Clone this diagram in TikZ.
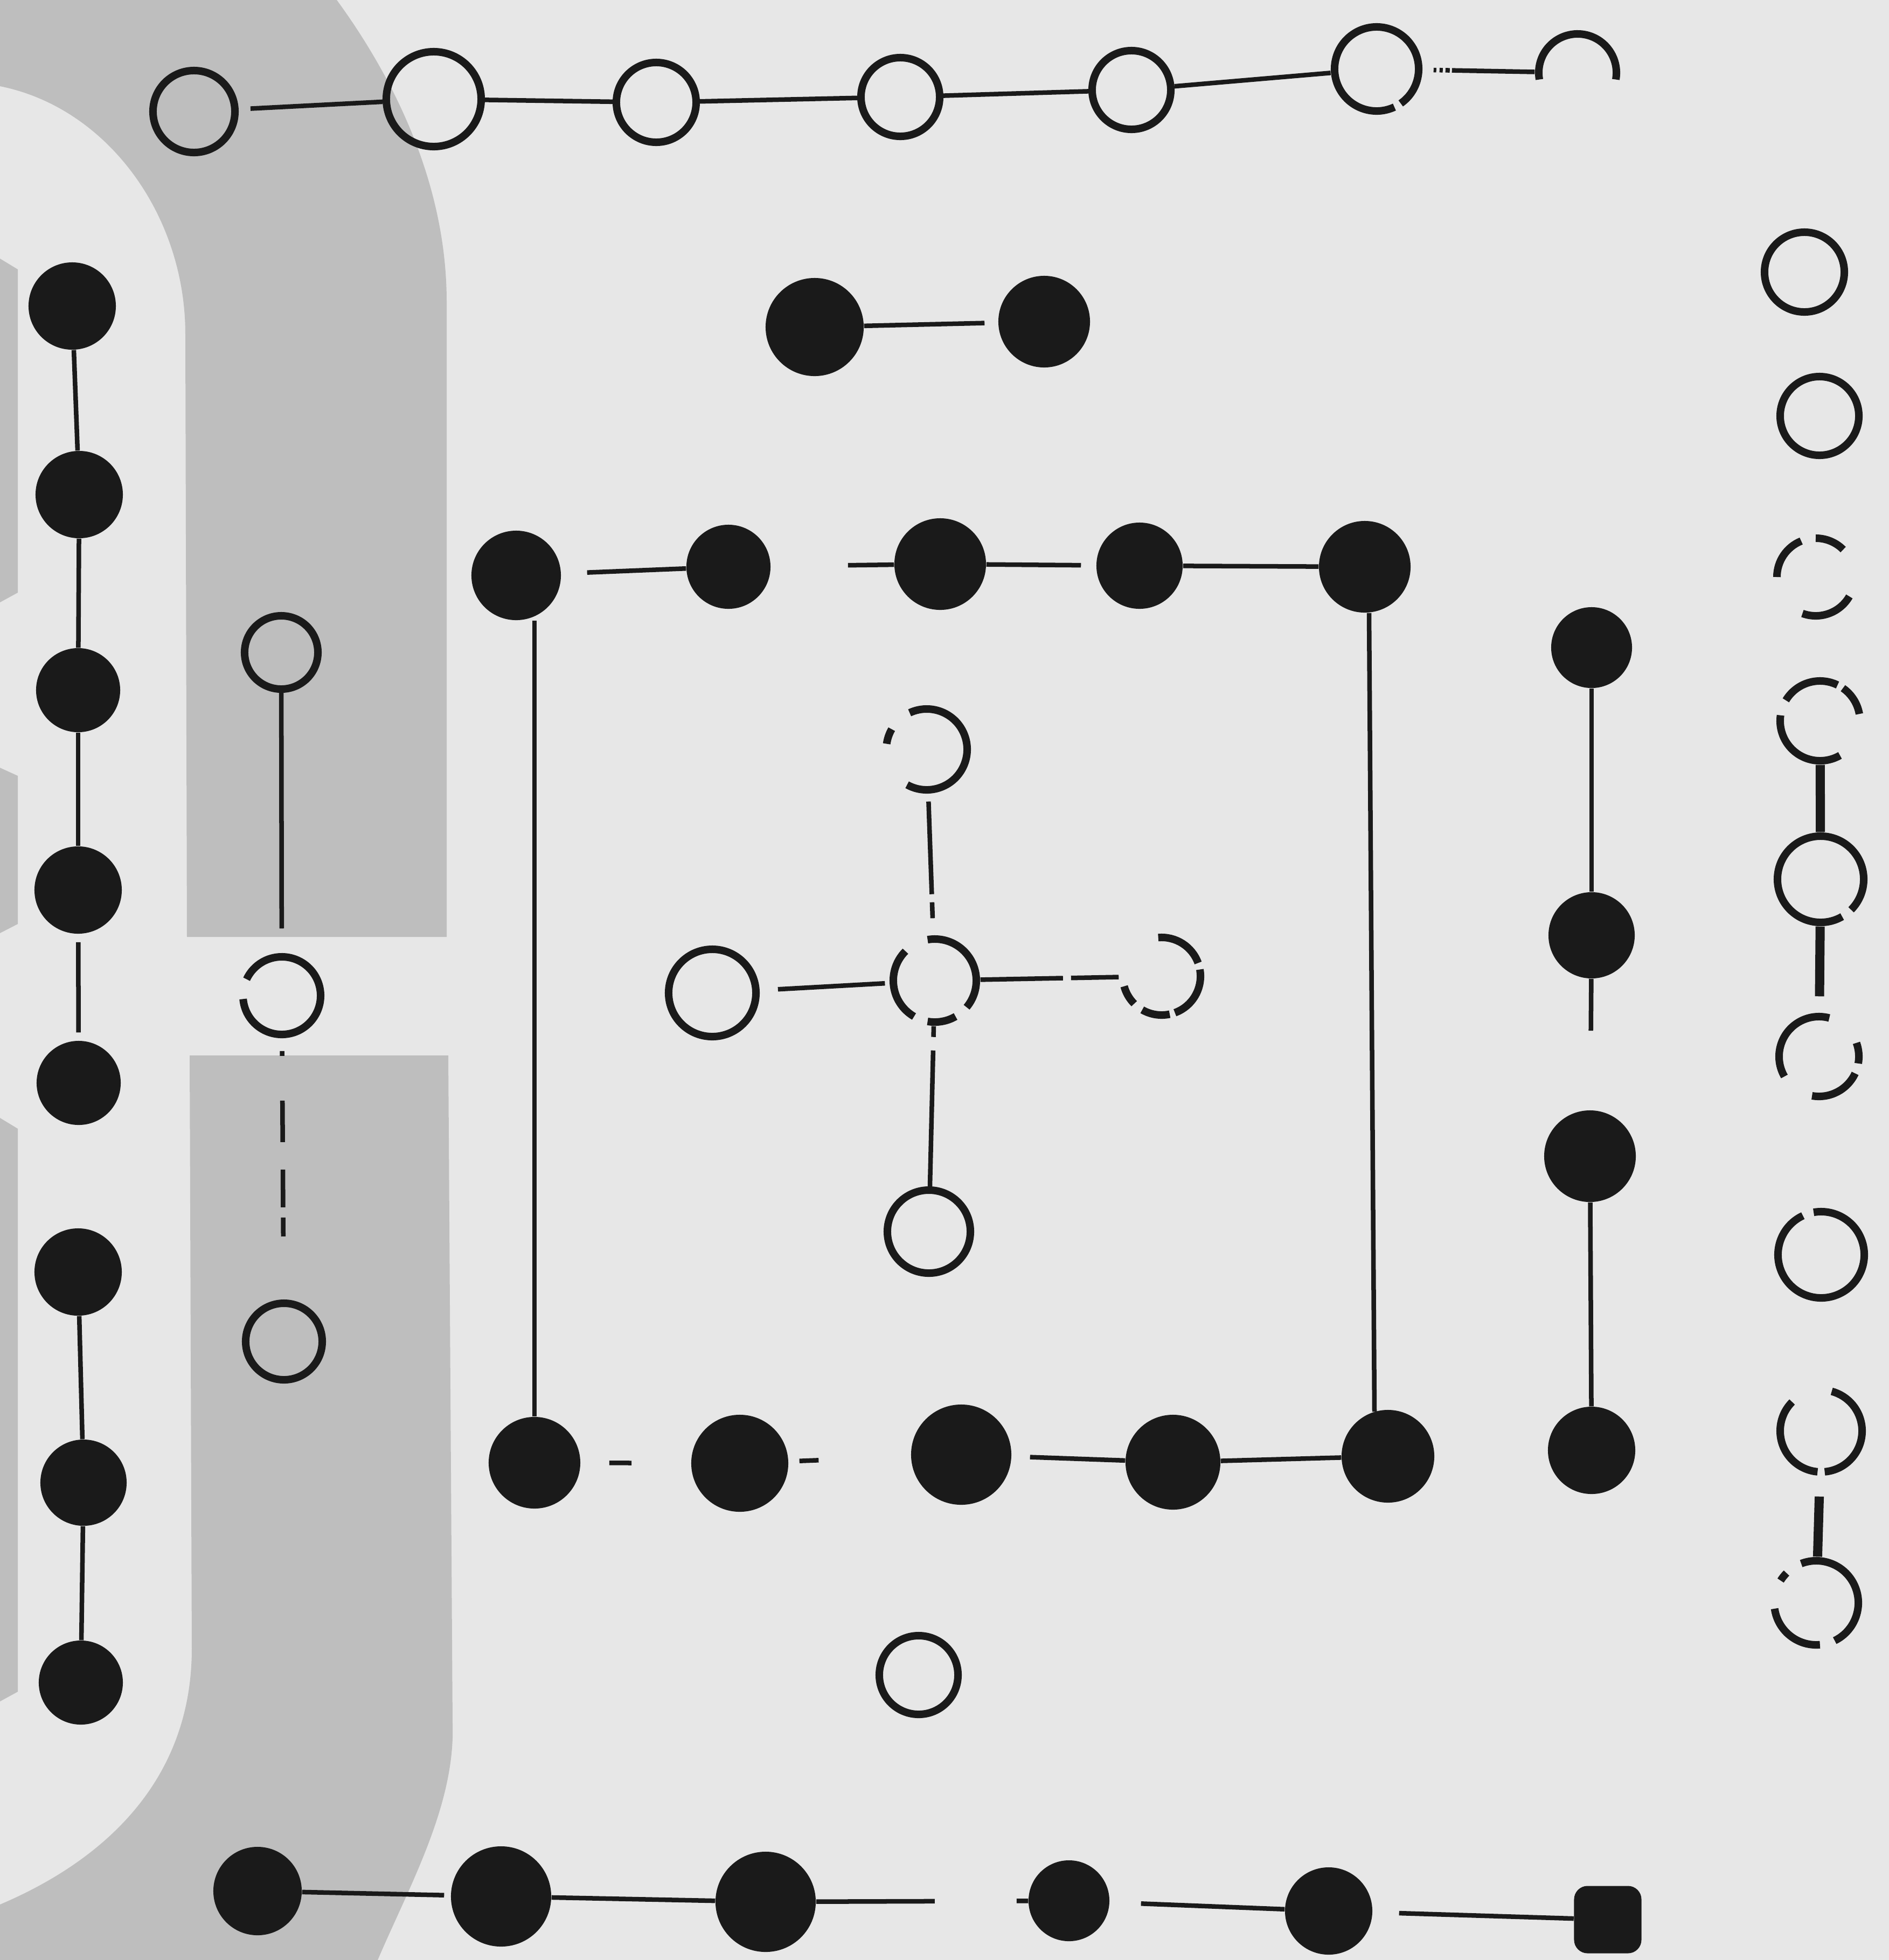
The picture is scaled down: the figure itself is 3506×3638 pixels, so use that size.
\documentclass[tikz,border=0pt]{standalone}
\usetikzlibrary{calc}
\definecolor{paper}{RGB}{231,231,231}
\definecolor{band}{RGB}{190,190,190}
\definecolor{ink}{RGB}{26,26,26}
\newcommand\brk[4]{\draw[arcline] ($(#1.center)+(#2:#4)$) arc[start angle=#2,end angle=#3,radius=#4];}
\begin{document}
\begin{tikzpicture}[x=0.01cm,y=-0.01cm,
  ring/.style={circle,draw=ink,line width=0.14cm,inner sep=0pt},
  blk/.style={circle,fill=ink,draw=none,inner sep=0pt},
  hole/.style={circle,draw=none,inner sep=0pt},
  conn/.style={draw=ink,line width=0.085cm},
  arcline/.style={draw=ink,line width=0.14cm},
  stem/.style={draw=ink,line width=0.17cm}]
\useasboundingbox (0,0) rectangle (3506,3638);
% background
\fill[paper] (0,0) rectangle (3506,3638);
\fill[band] (0,0) -- (625,0) .. controls (720,130) and (829,330) .. (829,560) -- (829,1739) -- (347,1739) -- (344,620) .. controls (344,400) and (200,200) .. (0,160) -- cycle;
\fill[band] (352,1959) -- (832,1959) -- (840,3200) .. controls (845,3350) and (760,3500) .. (701,3638) -- (0,3638) -- (0,3535) .. controls (200,3450) and (356,3300) .. (356,3060) -- cycle;
\fill[band] (0,480) -- (33,500) -- (33,1100) -- (0,1118) -- cycle;
\fill[band] (0,1425) -- (33,1440) -- (33,1715) -- (0,1732) -- cycle;
\fill[band] (0,2075) -- (33,2095) -- (33,3140) -- (0,3158) -- cycle;

% ---- top outer row (7 white)
\node[ring,minimum size=1.52cm] (T1) at (360,207) {};
\node[ring,minimum size=1.76cm] (T2) at (805,184) {};
\node[ring,minimum size=1.48cm] (T3) at (1218,190) {};
\node[ring,minimum size=1.46cm] (T4) at (1671,180) {};
\node[ring,minimum size=1.46cm] (T5) at (2100,167) {};
\node[hole,minimum size=1.70cm] (T6) at (2555,128) {};
\node[hole,minimum size=1.58cm] (T7) at (2928,135) {};
\brk{T6}{-55}{295}{0.78cm}
\brk{T7}{-10}{190}{0.72cm}

% ---- top inner pair (2 black)
\node[blk,minimum size=1.82cm] (N1) at (1512,607) {};
\node[blk,minimum size=1.70cm] (N2) at (1938,597) {};

% ---- left outer column (8 black)
\node[blk,minimum size=1.62cm] (L1) at (134,568) {};
\node[blk,minimum size=1.62cm] (L2) at (147,918) {};
\node[blk,minimum size=1.56cm] (L3) at (145,1281) {};
\node[blk,minimum size=1.62cm] (L4) at (145,1652) {};
\node[blk,minimum size=1.56cm] (L5) at (146,2010) {};
\node[blk,minimum size=1.62cm] (L6) at (145,2361) {};
\node[blk,minimum size=1.60cm] (L7) at (155,2752) {};
\node[blk,minimum size=1.56cm] (L8) at (150,3123) {};

% ---- left inner column (3 white)
\node[ring,minimum size=1.36cm] (IL1) at (522,1211) {};
\node[hole,minimum size=1.58cm] (IL2) at (523,1848) {};
\node[ring,minimum size=1.42cm] (IL3) at (527,2490) {};
\brk{IL2}{185}{515}{0.72cm}

% ---- centre cross (5 white)
\node[hole,minimum size=1.64cm] (CN) at (1720,1391) {};
\node[hole,minimum size=1.68cm] (C0) at (1735,1820) {};
\node[ring,minimum size=1.62cm] (CW) at (1322,1843) {};
\node[hole,minimum size=1.58cm] (CE) at (2156,1812) {};
\node[ring,minimum size=1.54cm] (CS) at (1724,2286) {};
\brk{CN}{-119}{115}{0.75cm}
\brk{CN}{150}{172}{0.75cm}
\brk{C0}{-40}{100}{0.77cm}
\brk{C0}{-100}{-60}{0.77cm}
\brk{C0}{135}{240}{0.77cm}
\brk{CE}{20}{95}{0.72cm}
\brk{CE}{-70}{10}{0.72cm}
\brk{CE}{-120}{-78}{0.72cm}
\brk{CE}{195}{225}{0.72cm}

% ---- square of ten black
\node[blk,minimum size=1.66cm] (S1) at (958,1068) {};
\node[blk,minimum size=1.56cm] (S2) at (1352,1052) {};
\node[blk,minimum size=1.70cm] (S3) at (1745,1047) {};
\node[blk,minimum size=1.60cm] (S4) at (2115,1050) {};
\node[blk,minimum size=1.70cm] (S5) at (2533,1052) {};
\node[blk,minimum size=1.70cm] (B1) at (992,2715) {};
\node[blk,minimum size=1.80cm] (B2) at (1373,2716) {};
\node[blk,minimum size=1.86cm] (B3) at (1784,2700) {};
\node[blk,minimum size=1.76cm] (B4) at (2177,2714) {};
\node[blk,minimum size=1.72cm] (B5) at (2576,2703) {};

% ---- right inner column (4 black)
\node[blk,minimum size=1.50cm] (R1) at (2954,1202) {};
\node[blk,minimum size=1.60cm] (R2) at (2954,1736) {};
\node[blk,minimum size=1.70cm] (R3) at (2951,2146) {};
\node[blk,minimum size=1.62cm] (R4) at (2954,2692) {};

% ---- right outer column (9 white)
\node[ring,minimum size=1.48cm] (W1) at (3349,505) {};
\node[ring,minimum size=1.46cm] (W2) at (3377,772) {};
\node[hole,minimum size=1.58cm] (W3) at (3370,1071) {};
\node[hole,minimum size=1.62cm] (W4) at (3378,1338) {};
\node[hole,minimum size=1.74cm] (W5) at (3379,1632) {};
\node[hole,minimum size=1.62cm] (W6) at (3376,1961) {};
\node[hole,minimum size=1.74cm] (W7) at (3380,2329) {};
\node[hole,minimum size=1.66cm] (W8) at (3380,2656) {};
\node[hole,minimum size=1.70cm] (W9) at (3371,2975) {};
\brk{W3}{112}{180}{0.72cm}
\brk{W3}{45}{90}{0.72cm}
\brk{W3}{-110}{-30}{0.72cm}
\brk{W4}{10}{55}{0.74cm}
\brk{W4}{64}{149}{0.74cm}
\brk{W4}{172}{300}{0.74cm}
\brk{W5}{-45}{300}{0.80cm}
\brk{W6}{75}{210}{0.74cm}
\brk{W6}{-100}{-25}{0.74cm}
\brk{W6}{-10}{20}{0.74cm}
\brk{W7}{115}{460}{0.80cm}
\brk{W8}{135}{265}{0.76cm}
\brk{W8}{-85}{75}{0.76cm}
\brk{W9}{188}{275}{0.78cm}
\brk{W9}{-64}{111}{0.78cm}
\brk{W9}{135}{148}{0.78cm}

% ---- bottom inner (1 white)
\node[ring,minimum size=1.46cm] (IB) at (1705,3109) {};

% ---- bottom outer row (6 black)
\node[blk,minimum size=1.64cm] (O1) at (478,3510) {};
\node[blk,minimum size=1.86cm] (O2) at (930,3520) {};
\node[blk,minimum size=1.86cm] (O3) at (1421,3530) {};
\node[blk,minimum size=1.50cm] (O4) at (1984,3528) {};
\node[blk,minimum size=1.62cm] (O5) at (2466,3547) {};
\node[fill=ink,draw=none,rounded corners=0.25cm,minimum size=1.25cm,inner sep=0pt] (O6) at (2984,3563) {};

% ================= connectors
% top row
\draw[conn,shorten <=0.22cm] (T1) -- (T2);
\draw[conn] (T2) -- (T3);
\draw[conn] (T3) -- (T4);
\draw[conn] (T4) -- (T5);
\draw[conn] (T5) -- (T6);
\draw[conn,shorten <=0.2cm,dash pattern=on 0.05cm off 0.06cm on 0.06cm off 0.05cm on 0.08cm off 0.04cm on 2cm] (T6) -- (T7);
% top inner
\draw[conn,shorten >=0.25cm] (N1) -- (N2);
% left outer
\draw[conn] (L1) -- (L2);
\draw[conn] (L2) -- (L3);
\draw[conn] (L3) -- (L4);
\draw[conn,shorten <=0.15cm,shorten >=0.15cm] (L4) -- (L5);
\draw[conn] (L6) -- (L7);
\draw[conn] (L7) -- (L8);
% left inner
\draw[conn,shorten >=0.45cm] (IL1) -- (IL2);
\draw[conn,shorten <=0.23cm,dash pattern=on 0.09cm off 0.83cm on 0.77cm off 0.51cm on 0.70cm off 0.19cm on 0.35cm off 3cm] (IL2) -- (IL3);
% centre cross
\draw[conn,shorten <=0.14cm,shorten >=0.31cm,dash pattern=on 1.72cm off 0.15cm on 2cm] (CN) -- (C0);
\draw[conn,dash pattern=on 0.2cm off 0.25cm on 4cm] (C0) -- (CS);
\draw[conn,shorten <=0.34cm,shorten >=0.08cm] (CW) -- (C0);
\draw[conn,dash pattern=on 1.53cm off 0.15cm on 2cm] (C0) -- (CE);
% square
\draw[conn,shorten <=0.48cm] (S1) -- (S2);
\draw[conn,shorten <=1.43cm] (S2) -- (S3);
\draw[conn,shorten >=0.28cm] (S3) -- (S4);
\draw[conn] (S4) -- (S5);
\draw[conn,shorten <=0.53cm,shorten >=1.1cm] (B1) -- (B2);
\draw[conn,shorten <=0.2cm,shorten >=1.71cm] (B2) -- (B3);
\draw[conn,shorten <=0.34cm] (B3) -- (B4);
\draw[conn] (B4) -- (B5);
\draw[conn] (B1.north) -- (B1.north |- S1.south);
\draw[conn] ($(S5.south)+(8,0)$) -- ($(B5.north)+(-25,4)$);
% right inner
\draw[conn] (R1) -- (R2);
\draw[conn,shorten >=1.47cm] (R2) -- (R3);
\draw[conn] (R3) -- (R4);
% right outer
\draw[stem] (W4) -- (W5);
\draw[stem,shorten >=0.3cm] (W5) -- (W6);
\draw[stem,shorten <=0.38cm] (W8) -- (W9);
% bottom outer
\draw[conn,shorten >=0.12cm] (O1) -- (O2);
\draw[conn] (O2) -- (O3);
\draw[conn,dash pattern=on 2.2cm off 1.52cm on 1cm] (O3) -- (O4);
\draw[conn,shorten <=0.58cm] (O4) -- (O5);
\draw[conn,shorten <=0.49cm] (O5) -- (O6);
\end{tikzpicture}
\end{document}
